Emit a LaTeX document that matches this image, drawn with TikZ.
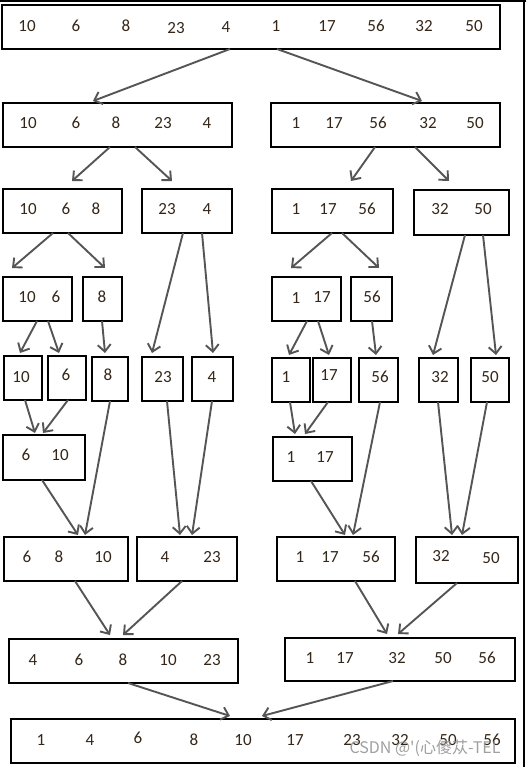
\documentclass[tikz,border=0pt]{standalone}
\usepackage{fontspec}
\setmainfont{Carlito}
\newfontfamily\cjkwm{Noto Sans CJK SC}
\usetikzlibrary{arrows.meta}
\definecolor{numcol}{RGB}{52,38,24}
\definecolor{arrcol}{RGB}{85,85,85}
\definecolor{wmcol}{RGB}{150,150,150}
\tikzset{
  box/.style={draw=black, line width=2.7pt, outer sep=0pt, inner sep=0pt, fill=white},
  num/.style={text=numcol, font=\fontsize{17}{20}\selectfont, inner sep=0pt},
  arr/.style={draw=arrcol, line width=1.9pt, -{Straight Barb[length=7pt,width=13pt]}},
}
\newcommand\bx[5]{\node[box, minimum width={(#4-#2)*1pt}, minimum height={(#5-#3)*1pt}] (#1) at ({(#2+#4)/2},{(#3+#5)/2}) {};}
\newcommand\conn[6]{\draw[arr] ([xshift=#2pt]#1.south west) -- ([xshift=#4pt,yshift=#5pt]#3.north west);}
\begin{document}
\begin{tikzpicture}[x=1pt,y=-1pt]
\useasboundingbox (0,0) rectangle (526,767);
\fill[white] (0,0) rectangle (526,767);
% frame lines at top and right
\draw[line width=2pt] (0,0.8) -- (526,0.8);
\draw[line width=2pt] (523.5,0) -- (523.5,767);
% boxes
\bx{r1}{2}{5}{500}{49}
\bx{a1}{3}{103}{232}{147}
\bx{b1}{271}{103}{500}{147}
\bx{a2}{3}{189}{122}{233}
\bx{a3}{142}{189}{232}{233}
\bx{b2}{272}{189}{393}{233}
\bx{b3}{414}{190}{509}{235}
\bx{a4}{3}{277}{72}{321}
\bx{a5}{83}{277}{122}{321}
\bx{b4}{272}{277}{341}{321}
\bx{b5}{351}{277}{392}{321}
\bx{c1}{4}{356}{42}{400}
\bx{c2}{48}{356}{86}{400}
\bx{c3}{92}{357}{128}{401}
\bx{c4}{142}{357}{183}{401}
\bx{c5}{192}{357}{233}{401}
\bx{c6}{272}{358}{310}{402}
\bx{c7}{313}{358}{351}{402}
\bx{c8}{359}{358}{398}{402}
\bx{c9}{419}{358}{458}{402}
\bx{c10}{471}{358}{509}{402}
\bx{d1}{3}{435}{85}{480}
\bx{d2}{273}{437}{352}{481}
\bx{e1}{4}{537}{128}{581}
\bx{e2}{137}{537}{237}{581}
\bx{e3}{277}{537}{395}{581}
\bx{e4}{416}{537}{518}{583}
\bx{f1}{9}{639}{238}{683}
\bx{f2}{285}{638}{515}{681}
\bx{g1}{11}{719}{515}{763}
% numbers
\foreach \x/\y/\t [count=\i] in {
  27/26/10, 76/26/6, 126/26/8, 176/28/23, 226/27/4, 276/26/1, 327/26/17, 376/26/56, 424/26/32, 474/26/50,
  28/123/10, 76/123/6, 116/123/8, 163/123/23, 207/123/4,
  296/123/1, 334/123/17, 378/123/56, 428/123/32, 475/123/50,
  28/209/10, 66/209/6, 96/209/8, 167/209/23, 207/209/4,
  296/209/1, 328/209/17, 367/209/56, 440/209/32, 483/209/50,
  27/297/10, 56/297/6, 102/297/8, 296/298/1, 322/297/17, 372/297/56,
  21/377/10, 66/375/6, 108/375/8, 163/377/23, 212/377/4,
  286/377/1, 329/375/17, 380/377/56, 440/377/32, 490/377/50,
  26/455/6, 60/455/10, 291/457/1, 325/457/17,
  27/557/6, 59/557/8, 103/557/10, 165/557/4, 212/557/23,
  300/557/1, 330/557/17, 371/557/56, 441/556/32, 491/558/50,
  33/660/4, 79/660/6, 123/660/8, 168/660/10, 212/660/23,
  310/658/1, 345/658/17, 397/658/32, 443/658/50, 487/658/56,
  41/740/1, 90/740/4, 138/738/6, 194/740/8, 243/740/10, 295/740/17, 352/740/23, 400/740/32, 448/740/50, 492/740/56}
  \node[num] (n\i) at (\x,\y) {\t};
% watermark
\node[text=wmcol, font=\cjkwm\fontsize{16}{18}\selectfont, inner sep=0pt, opacity=0.9] (wm) at (425,748) {CSDN @'(心傻苁-TEL};
% connectors
\conn{r1}{228}{a1}{90}{2}{}
\conn{r1}{275}{b1}{151}{2}{}
\conn{a1}{107}{a2}{69}{8}{}
\conn{a1}{132}{a3}{30}{8}{}
\conn{b1}{104}{b2}{79}{8}{}
\conn{b1}{144}{b3}{35}{9}{}
\conn{a2}{50}{a4}{9}{9}{}
\conn{a2}{65}{a5}{22}{9}{}
\conn{a3}{41}{c4}{10}{4}{}
\conn{a3}{60}{c5}{21}{4}{}
\conn{b2}{60}{b4}{19}{9}{}
\conn{b2}{70}{b5}{28}{9}{}
\conn{b3}{51}{c9}{14}{3}{}
\conn{b3}{69}{c10}{25}{3}{}
\conn{a4}{34}{c1}{16}{3}{}
\conn{a4}{45}{c2}{11}{3}{}
\conn{a5}{19}{c3}{13}{4}{}
\conn{b4}{35}{c6}{17}{3}{}
\conn{b4}{46}{c7}{16}{3}{}
\conn{b5}{21}{c8}{17}{3}{}
\conn{c1}{21}{d1}{32}{2}{}
\conn{c2}{20}{d1}{40}{2}{}
\conn{c6}{18}{d2}{22}{3}{}
\conn{c7}{15}{d2}{32}{3}{}
\conn{d1}{39}{e1}{74}{2}{}
\conn{c3}{18}{e1}{81}{2}{}
\conn{c4}{25}{e2}{43}{2}{}
\conn{c5}{20}{e2}{55}{2}{}
\conn{d2}{38}{e3}{68}{2}{}
\conn{c8}{21}{e3}{76}{2}{}
\conn{c9}{19}{e4}{36}{2}{}
\conn{c10}{16}{e4}{46}{2}{}
\conn{e1}{71}{f1}{101}{4}{}
\conn{e2}{45}{f1}{114}{4}{}
\conn{e3}{78}{f2}{102}{4}{}
\conn{e4}{41}{f2}{113}{4}{}
\conn{f1}{119}{g1}{219}{3}{}
\conn{f2}{108}{g1}{251}{3}{}
\end{tikzpicture}
\end{document}
